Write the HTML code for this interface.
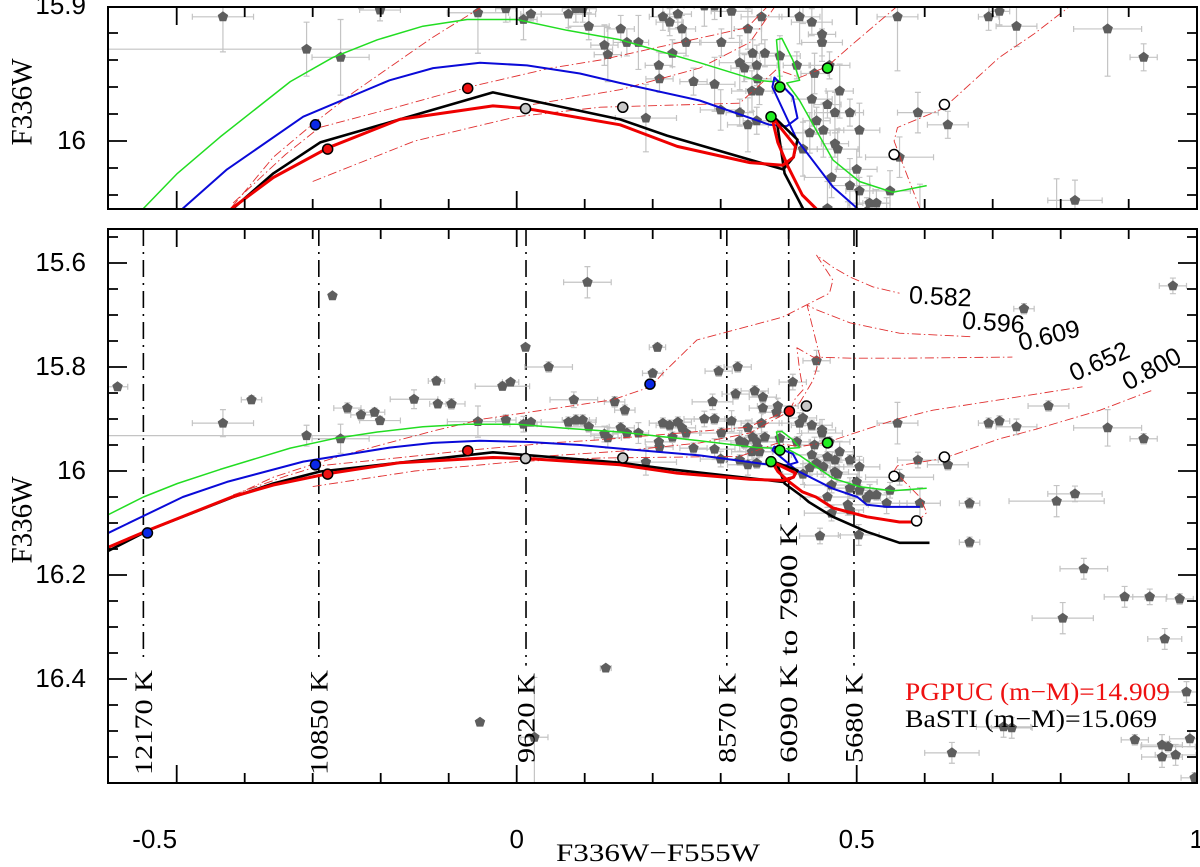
<!DOCTYPE html>
<html><head><meta charset="utf-8"><style>
html,body{margin:0;padding:0;background:#fff;width:1200px;height:867px;overflow:hidden;}
svg{display:block;}
.tick{font-family:"Liberation Sans",sans-serif;font-size:26px;fill:#000;}
.mono{font-family:"Liberation Serif",serif;}
</style></head><body>
<svg id="chart" width="1200" height="867" viewBox="0 0 1200 867" xmlns="http://www.w3.org/2000/svg">
<defs>
<clipPath id="clipTop"><rect x="108" y="7" width="1089" height="202"/></clipPath>
<clipPath id="clipBot"><rect x="108" y="229" width="1089" height="554"/></clipPath>
</defs>
<g id="topPanel"></g>
<g id="botPanel"></g>
<text x="22" y="102" class="mono" font-size="30" text-anchor="middle" textLength="87" lengthAdjust="spacingAndGlyphs" transform="rotate(-90 22 102)" dominant-baseline="central">F336W</text>
<text x="22" y="520" class="mono" font-size="30" text-anchor="middle" textLength="87" lengthAdjust="spacingAndGlyphs" transform="rotate(-90 22 520)" dominant-baseline="central">F336W</text>
<text x="658" y="861" class="mono" font-size="25" text-anchor="middle" textLength="204" lengthAdjust="spacingAndGlyphs">F336W−F555W</text>
<text x="905" y="700" class="mono" font-size="25" fill="#ee1111" textLength="265" lengthAdjust="spacingAndGlyphs">PGPUC (m−M)=14.909</text>
<text x="905" y="727" class="mono" font-size="25" fill="#000" textLength="252" lengthAdjust="spacingAndGlyphs">BaSTI (m−M)=15.069</text>
</svg>
<script>
// ---- data ----
const starC=[-0.587,-0.390,-0.432,-0.271,-0.309,-0.259,-0.249,-0.229,-0.209,-0.201,-0.151,-0.118,-0.116,-0.096,-0.057,-0.021,-0.009,-0.016,0.010,0.021,0.013,0.047,0.104,0.084,0.076,0.087,0.097,0.106,0.129,0.134,0.144,0.159,0.153,0.162,0.179,0.190,0.207,0.200,0.209,0.210,0.215,0.225,0.237,0.243,0.229,0.249,0.260,
0.288,0.322,0.350,0.362,0.406,0.276,0.291,0.316,0.362,0.384,0.382,0.360,0.340,0.301,0.328,0.335,0.347,0.353,0.365,0.354,0.291,0.346,0.357,0.387,0.412,0.416,0.421,0.434,0.449,0.449,0.438,0.460,0.475,0.468,0.457,0.434,0.441,0.431,0.451,0.468,0.472,0.490,0.504,0.300,0.328,0.353,0.340,0.421,0.463,0.490,0.500,0.504,0.519,0.529,0.549,0.544,0.457,0.463,0.487,0.490,0.446,0.503,0.560,0.563,0.590,0.593,0.515,
0.965,0.746,0.782,0.694,0.710,0.735,0.869,0.922,0.794,0.821,0.666,0.666,0.634,0.441,0.325,0.297,
0.834,0.894,0.931,0.975,0.803,0.953,0.985,0.716,0.728,0.909,0.949,0.958,0.949,0.969,0.990,0.997,0.640,0.131,-0.054,0.026];
const starM=[15.838,15.863,15.908,15.663,15.932,15.938,15.879,15.892,15.887,15.903,15.862,15.827,15.871,15.871,15.905,15.837,15.829,15.902,15.910,15.906,15.762,15.800,15.637,15.863,15.906,15.902,15.902,15.915,15.929,15.936,15.867,15.883,15.917,15.927,15.927,15.983,15.762,15.812,15.944,15.954,15.908,15.912,15.906,15.917,15.935,15.927,15.956,
15.867,15.852,15.846,15.858,15.829,15.900,15.900,15.904,15.879,15.875,15.887,15.908,15.917,15.927,15.942,15.946,15.935,15.944,15.935,15.954,15.958,15.963,15.963,15.937,15.944,15.908,15.898,15.912,15.921,15.927,15.950,15.944,15.963,15.979,15.973,15.969,15.985,15.994,15.992,16.002,16.006,15.979,15.992,15.977,15.979,15.985,15.988,16.006,16.027,16.033,16.021,16.037,16.046,16.046,16.037,16.062,16.050,16.081,16.065,16.075,16.125,16.123,15.908,16.012,15.979,16.062,16.052,
15.644,15.688,15.875,15.908,15.904,15.915,15.917,15.938,16.058,16.044,16.062,16.137,15.988,15.788,15.800,15.808,
16.188,16.242,16.242,16.246,16.283,16.323,16.425,16.492,16.494,16.517,16.527,16.530,16.550,16.546,16.515,16.590,16.542,16.379,16.483,16.512];
const starXe=[0.015,0.015,0.045,0.005,0.45,0.042,0.02,0.015,0.015,0.03,0.035,0.012,0.012,0.02,0.045,0.04,0.012,0.015,0.02,0.015,0.005,0.035,0.035,0.035,0.04,0.02,0.02,0.03,0.02,0.02,0.015,0.015,0.02,0.02,0.015,0.045,0.012,0.015,0.02,0.02,0.02,0.02,0.02,0.02,0.02,0.02,0.02,
0.03,0.02,0.02,0.02,0.02,0.03,0.03,0.03,0.02,0.03,0.02,0.03,0.02,0.03,0.03,0.02,0.02,0.03,0.02,0.02,0.03,0.03,0.02,0.03,0.02,0.03,0.02,0.03,0.02,0.03,0.02,0.03,0.02,0.03,0.02,0.03,0.02,0.03,0.03,0.02,0.03,0.02,0.03,0.03,0.02,0.02,0.03,0.03,0.04,0.03,0.03,0.02,0.03,0.02,0.03,0.03,0.04,0.04,0.03,0.02,0.03,0.03,0.03,0.05,0.03,0.03,0.02,
0.02,0.015,0.03,0.015,0.015,0.03,0.05,0.02,0.07,0.04,0.015,0.015,0.03,0.02,0.02,0.02,
0.035,0.03,0.025,0.02,0.045,0.025,0.04,0.04,0.03,0.02,0.03,0.04,0.03,0.03,0.03,0.02,0.04,0.008,0.005,0.02];
const starYe=[0.006,0.008,0.026,0.005,0.02,0.028,0.01,0.01,0.008,0.008,0.018,0.008,0.008,0.01,0.03,0.008,0.006,0.01,0.015,0.005,0.005,0.01,0.03,0.015,0.01,0.01,0.01,0.01,0.015,0.02,0.01,0.01,0.01,0.01,0.02,0.025,0.008,0.008,0.01,0.01,0.01,0.01,0.01,0.01,0.01,0.01,0.01,
0.015,0.01,0.01,0.01,0.015,0.015,0.01,0.02,0.01,0.015,0.01,0.02,0.015,0.01,0.02,0.01,0.01,0.015,0.01,0.01,0.02,0.015,0.01,0.015,0.01,0.02,0.015,0.01,0.02,0.01,0.015,0.01,0.02,0.015,0.01,0.02,0.01,0.015,0.02,0.01,0.015,0.01,0.02,0.015,0.01,0.01,0.02,0.02,0.015,0.02,0.015,0.01,0.02,0.01,0.015,0.02,0.02,0.015,0.02,0.01,0.015,0.02,0.04,0.015,0.015,0.03,0.01,
0.015,0.01,0.01,0.01,0.01,0.015,0.035,0.01,0.03,0.015,0.01,0.01,0.01,0.02,0.01,0.01,
0.02,0.02,0.015,0.01,0.03,0.02,0.02,0.02,0.02,0.01,0.02,0.01,0.02,0.02,0.015,0.01,0.02,0.005,0.005,0.115];

const greenC=[-0.625,-0.549,-0.499,-0.436,-0.333,-0.270,-0.205,-0.138,-0.073,0.0,0.074,0.152,0.269,0.353,0.376,0.387,0.382,0.390,0.406,0.416,0.397,0.416,0.465,0.504,0.553,0.603];
const greenM=[16.100,16.050,16.024,15.997,15.956,15.938,15.925,15.915,15.910,15.910,15.918,15.925,15.942,15.955,15.956,15.955,15.925,15.924,15.940,15.955,15.957,15.970,16.014,16.030,16.038,16.033];
const blueC=[-0.625,-0.591,-0.491,-0.426,-0.314,-0.187,-0.123,-0.054,0.015,0.093,0.152,0.269,0.372,0.397,0.413,0.406,0.379,0.376,0.412,0.465,0.501,0.515,0.544,0.593];
const blueM=[16.135,16.113,16.050,16.021,15.982,15.955,15.946,15.942,15.944,15.950,15.957,15.970,15.988,15.989,15.983,15.967,15.953,15.960,15.999,16.034,16.050,16.065,16.069,16.069];
const blackC=[-0.625,-0.54,-0.417,-0.358,-0.289,-0.172,-0.035,0.152,0.221,0.392,0.407,0.413,0.382,0.394,0.421,0.43,0.465,0.515,0.563,0.607];
const blackM=[16.17,16.113,16.050,16.024,16.001,15.984,15.964,15.984,15.996,16.021,16.012,15.999,15.984,16.024,16.050,16.060,16.088,16.117,16.138,16.138];
const redC=[-0.625,-0.54,-0.419,-0.358,-0.277,-0.172,-0.035,0.015,0.152,0.236,0.343,0.391,0.407,0.410,0.375,0.384,0.399,0.42,0.44,0.465,0.515,0.563,0.588];
const redM=[16.16,16.113,16.050,16.027,16.005,15.984,15.974,15.976,15.988,16.004,16.016,16.018,16.012,16.004,15.982,16.001,16.019,16.040,16.050,16.071,16.088,16.098,16.098];

const t582C=[-0.419,-0.358,-0.299,-0.240,-0.186,-0.123,-0.049,0.141,0.197,0.215,0.265,0.391,0.460,0.465,0.441,0.465,0.490,0.524,0.563];
const t582M=[16.049,16.012,15.987,15.964,15.945,15.923,15.900,15.863,15.838,15.812,15.748,15.704,15.658,15.633,15.585,15.608,15.627,15.646,15.658];
const t596C=[-0.417,-0.34,-0.29,-0.17,-0.07,0.05,0.123,0.339,0.377,0.40,0.416,0.436,0.446,0.427,0.441,0.490,0.563,0.671];
const t596M=[16.046,16.010,15.990,15.974,15.960,15.946,15.940,15.916,15.896,15.880,15.869,15.825,15.781,15.681,15.690,15.715,15.735,15.742];
const t609C=[0.0,0.152,0.269,0.343,0.401,0.41,0.421,0.416,0.412,0.436,0.495,0.563,0.729];
const t609M=[15.975,15.962,15.946,15.927,15.885,15.860,15.844,15.806,15.763,15.781,15.783,15.783,15.781];
const t652C=[-0.30,-0.15,0.0,0.123,0.328,0.382,0.416,0.456,0.49,0.56,0.612,0.71,0.832];
const t652M=[16.03,16.0,15.982,15.975,15.972,15.947,15.953,15.945,15.930,15.900,15.883,15.863,15.838];
const t800C=[0.588,0.603,0.593,0.57,0.555,0.56,0.627,0.71,0.76,0.858,0.936];
const t800M=[16.098,16.080,16.050,16.020,16.000,15.990,15.976,15.938,15.921,15.883,15.844];
const trackLabels=['0.582','0.596','0.609','0.652','0.800'];
const trackLabelC=[0.623,0.701,0.783,0.857,0.934];
const trackLabelM=[15.665,15.715,15.740,15.790,15.804];
const trackLabelRot=[3,4,-14,-24,-28];

const markC=[-0.543,-0.296,0.196,-0.278,-0.072,0.401,0.013,0.156,0.426,0.374,0.387,0.457,0.555,0.629,0.588];
const markM=[16.119,15.988,15.833,16.006,15.961,15.885,15.976,15.975,15.875,15.982,15.960,15.946,16.010,15.973,16.096];
const markType=['blue','blue','blue','red','red','red','gray','gray','gray','green','green','green','white','white','white'];

const tempC=[-0.549,-0.291,0.0137,0.309,0.400,0.496];
const tempLabels=['12170 K','10850 K','9620 K','8570 K','6090 K to 7900 K','5680 K'];
const tempTextBottom=[775,775,763,763,763,763];

const xTicks=[-0.5,0,0.5,1];
const topYTicks=[15.9,16];
const botYTicks=[15.6,15.8,16,16.2,16.4];

// ---- scales ----
const X=c=>516.7+680*c;
const topY=m=>141+1350*(m-16);
const botY=m=>471+520*(m-16);
const NS='http://www.w3.org/2000/svg';
function mk(tag,attrs,parent){const e=document.createElementNS(NS,tag);for(const k in attrs)e.setAttribute(k,attrs[k]);parent.appendChild(e);return e;}
const fillOf={blue:'#0a28e6',red:'#ee1111',gray:'#c8c8c8',green:'#22ee22',white:'#ffffff'};

function panel(g,Y,clipId,y0,y1,mMin,mMax,yMinorStep,yMajorStep,yTicks,isBottom){
  const L=108,R=1197;
  const inside=y=>y>y0-30&&y<y1+30;
  const pl=mk('g',{'clip-path':'url(#'+clipId+')'},g);
  
  
  if(isBottom){
    tempC.forEach((c,i)=>{
      const x=X(c);
      const nch=tempLabels[i].length;
      const len=nch*15.06;
      const top=tempTextBottom[i]-len;
      const ln=mk('line',{x1:x,y1:229,x2:x,y2:top-7,stroke:'#000','stroke-width':1.6,'stroke-dasharray':'17,6,2,6'},pl);
      
      
      const tx=mk('text',{x:x+1,y:tempTextBottom[i],'class':'mono','font-size':25,textLength:len.toFixed(0),lengthAdjust:'spacingAndGlyphs','dominant-baseline':'central',transform:'rotate(-90 '+(x+1)+' '+tempTextBottom[i]+')'},g);
      tx.textContent=tempLabels[i];
      
      
    });
  }
  starC.forEach((c,i)=>{
    const x=X(c),y=Y(starM[i]);
    if(!inside(y))return;
    const xa=X(c-starXe[i]),xb=X(c+starXe[i]),ya=Y(starM[i]-starYe[i]),yb=Y(starM[i]+starYe[i]);
    const e=mk('path',{d:`M${xa},${y}H${xb}M${x},${ya}V${yb}M${xa},${y-3}V${y+3}M${xb},${y-3}V${y+3}M${x-3},${ya}H${x+3}M${x-3},${yb}H${x+3}`,stroke:'#c4c4c4','stroke-width':1.2,fill:'none'},pl);
    
    
  });
  starC.forEach((c,i)=>{
    const x=X(c),y=Y(starM[i]);
    if(!inside(y))return;
    let p='';
    for(let k=0;k<5;k++){const a=-Math.PI/2+k*2*Math.PI/5;p+=(x+5.5*Math.cos(a)).toFixed(1)+','+(y+5.5*Math.sin(a)).toFixed(1)+' ';}
    const s=mk('polygon',{points:p,fill:'#5e5e5e'},pl);
    
    
  });
  function line(C,M,col,w,dash,name){
    const d=C.map((c,i)=>(i?'L':'M')+X(c).toFixed(1)+','+Y(M[i]).toFixed(1)).join('');
    const a={d:d,stroke:col,'stroke-width':w,fill:'none','stroke-linejoin':'round'};
    if(dash)a['stroke-dasharray']=dash;
    const p=mk('path',a,pl);
    
    
  }
  const dd='9,3,1.5,3';
  line(t582C,t582M,'#e03030',0.9,dd,'track-0582');
  line(t596C,t596M,'#e03030',0.9,dd,'track-0596');
  line(t609C,t609M,'#e03030',0.9,dd,'track-0609');
  line(t652C,t652M,'#e03030',0.9,dd,'track-0652');
  line(t800C,t800M,'#e03030',0.9,dd,'track-0800');
  line(greenC,greenM,'#22dd22',1.5,null,'green-zahb');
  line(blueC,blueM,'#0a0ad8',2,null,'blue-zahb');
  line(blackC,blackM,'#000',2.6,null,'basti-zahb');
  line(redC,redM,'#ee0000',3,null,'pgpuc-zahb');
  markC.forEach((c,i)=>{
    const y=Y(markM[i]);
    if(!inside(y))return;
    const m=mk('circle',{cx:X(c),cy:y,r:5,fill:fillOf[markType[i]],stroke:'#000','stroke-width':1.5},pl);
    
    
  });
  if(isBottom){
    trackLabels.forEach((t,i)=>{
      const x=X(trackLabelC[i]),y=Y(trackLabelM[i]);
      const tx=mk('text',{x:x,y:y,'font-family':'Liberation Sans, sans-serif','font-size':25,'text-anchor':'middle','dominant-baseline':'central',transform:`rotate(${trackLabelRot[i]} ${x} ${y})`},g);
      tx.textContent=t;
      
      
    });
  }
  const fr=mk('rect',{x:L,y:y0,width:R-L,height:y1-y0,fill:'none',stroke:'#000','stroke-width':2},g);
  
  
  let d='';
  for(let k=-6;k<=10;k++){const c=k/10,x=X(c);if(x<L+1||x>R-1)continue;const len=(k%5===0)?18:10;d+=`M${x},${y0}v${len}M${x},${y1}v${-len}`;}
  const nMin=Math.ceil(mMin/yMinorStep-1e-6),nMax=Math.floor(mMax/yMinorStep+1e-6);
  for(let n=nMin;n<=nMax;n++){const m=n*yMinorStep,y=Y(m);if(y<y0+1||y>y1-1)continue;const maj=Math.abs(m/yMajorStep-Math.round(m/yMajorStep))<1e-6;const len=maj?19:10;d+=`M${L},${y}h${len}M${R},${y}h${-len}`;}
  const tk=mk('path',{d:d,stroke:'#000','stroke-width':1.8,fill:'none'},g);
  
  
  yTicks.forEach(v=>{
    const t=mk('text',{x:86,y:Y(v)+8,'class':'tick','text-anchor':'end'},g);
    t.textContent=String(v);
    
    
  });
  if(isBottom){
    xTicks.forEach(v=>{
      const t=mk('text',{x:X(v)-(v<0?22:0),y:848,'class':'tick','text-anchor':'middle'},g);
      t.textContent=String(v);
      
      
    });
  }
}
panel(document.getElementById('topPanel'),topY,'clipTop',7,209,15.9,16.05,0.02,0.1,topYTicks,false);
panel(document.getElementById('botPanel'),botY,'clipBot',229,783,15.535,16.6,0.05,0.2,botYTicks,true);
</script>
</body></html>
